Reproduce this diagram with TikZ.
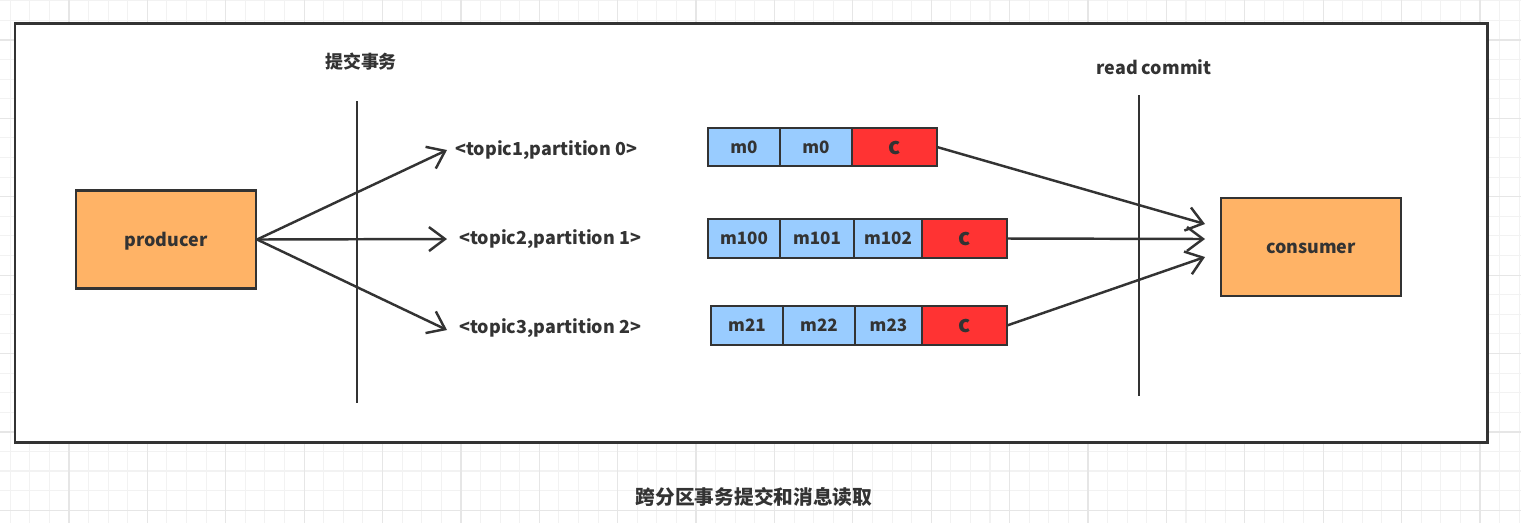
\documentclass[tikz,border=0pt]{standalone}
\usepackage{fontspec}
\newfontfamily\cjk{Noto Sans CJK SC}
\usetikzlibrary{arrows.meta, positioning}

\definecolor{ink}{HTML}{333333}
\definecolor{boxorange}{HTML}{FFB366}
\definecolor{msgblue}{HTML}{99CCFF}
\definecolor{commitred}{HTML}{FF3333}
\definecolor{gridminor}{HTML}{F2F2F2}
\definecolor{gridmajor}{HTML}{E6E6E6}

\def\px{0.02cm}

\tikzset{
  label/.style={text=ink, font=\cjk\bfseries\fontsize{10.2}{12}\selectfont, inner sep=0pt},
  role/.style={draw=ink, line width=1.2pt, fill=boxorange, text=ink,
    font=\cjk\bfseries\fontsize{10.2}{12}\selectfont,
    text height=0.85em, text depth=0.1em,
    minimum width=180*\px, minimum height=98*\px, inner sep=0pt},
  msg/.style={draw=ink, line width=1.1pt, fill=msgblue, text=ink,
    font=\cjk\bfseries\fontsize{9.7}{11}\selectfont,
    minimum height=38*\px, inner sep=0pt, outer sep=0pt},
  commit/.style={msg, fill=commitred, minimum width=85*\px,
    text height=0.8em, text depth=0em,
    font=\cjk\bfseries\fontsize{13}{15}\selectfont},
  flow/.style={draw=ink, line width=1.4pt,
    -{Straight Barb[length=0.32cm, width=0.48cm, line width=1.4pt]}},
  bar/.style={draw=ink, line width=1.3pt}
}

\begin{document}
\begin{tikzpicture}[x=\px, y=-\px]

  \useasboundingbox (0,0) rectangle (1521,522);

  % ---------------- background grid ----------------
  \begin{scope}
    \clip (0,0) rectangle (1521,522);
    \begin{scope}[shift={(10.2,0.7)}]
      \draw[gridminor, line width=0.6pt, step=0.392cm] (-40,-40) grid (1560,560);
    \end{scope}
    \begin{scope}[shift={(69,40)}]
      \draw[gridmajor, line width=0.7pt, step=1.568cm] (-160,-160) grid (1560,560);
    \end{scope}
  \end{scope}

  % ---------------- frame ----------------
  \draw[ink, line width=1.7pt, fill=white] (15,23) rectangle (1487,442);

  % the two cut lines
  \draw[bar] (357,101) -- (357,403);
  \draw[bar] (1139,95) -- (1139,396);
  \node[label] (txcommit) at (361,62) {提交事务};
  \node[label] (readcommit) at (1154,67) {read commit};

  % ---------------- producer side ----------------
  \node[role] (producer) at (166,239.5) {producer};

  \node[label, anchor=west] (t1) at (455,150) {<topic1,partition 0>};
  \node[label, anchor=west] (t2) at (459,239) {<topic2,partition 1>};
  \node[label, anchor=west] (t3) at (459,328) {<topic3,partition 2>};

  \coordinate (p1) at (447,150);
  \coordinate (p2) at (447,239);
  \coordinate (p3) at (447,330);
  \draw[flow] (producer.east) -- (p1);
  \draw[flow] (producer.east) -- (p2);
  \draw[flow] (producer.east) -- (p3);

  % ---------------- partitions ----------------
  % partition 0
  \node[msg, minimum width=72*\px, anchor=west] (m0a) at (708,147) {m0};
  \node[msg, minimum width=72*\px, right=0pt of m0a] (m0b) {m0};
  \node[commit, right=0pt of m0b] (c1) {c};
  % partition 1
  \node[msg, minimum width=72*\px, anchor=west, minimum height=39*\px] (m100) at (708,238.5) {m100};
  \node[msg, minimum width=74*\px, minimum height=39*\px, right=0pt of m100] (m101) {m101};
  \node[msg, minimum width=68*\px, minimum height=39*\px, right=0pt of m101] (m102) {m102};
  \node[commit, minimum height=39*\px, right=0pt of m102] (c2) {c};
  % partition 2
  \node[msg, minimum width=72*\px, anchor=west, minimum height=39*\px] (m21) at (711,325.5) {m21};
  \node[msg, minimum width=72*\px, minimum height=39*\px, right=0pt of m21] (m22) {m22};
  \node[msg, minimum width=67*\px, minimum height=39*\px, right=0pt of m22] (m23) {m23};
  \node[commit, minimum height=39*\px, right=0pt of m23] (c3) {c};

  % ---------------- consumer side ----------------
  \node[role] (consumer) at (1311,247) {consumer};

  \coordinate (r1) at (1205,224);
  \coordinate (r2) at (1205,239);
  \coordinate (r3) at (1205,257);
  \draw[flow] (c1.east) -- (r1);
  \draw[flow] (c2.east) -- (r2);
  \draw[flow] (c3.east) -- (r3);

  % ---------------- caption ----------------
  \node[label, font=\cjk\bfseries\fontsize{11.2}{13}\selectfont] (caption) at (754,497)
    {跨分区事务提交和消息读取};

\end{tikzpicture}
\end{document}
